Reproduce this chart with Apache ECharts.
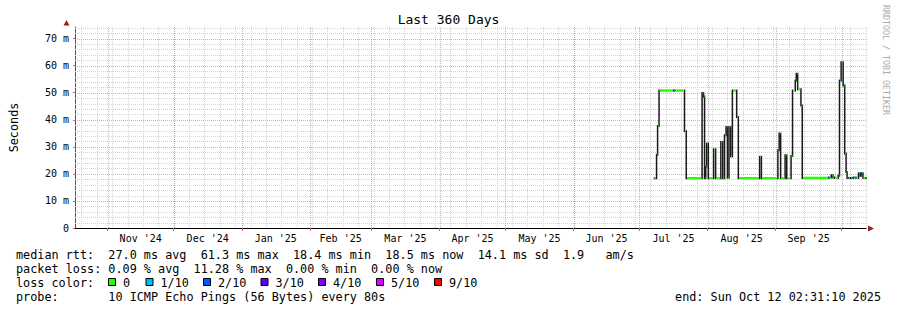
<!DOCTYPE html>
<html><head><meta charset="utf-8">
<script src="https://cdn.jsdelivr.net/npm/echarts@6/dist/echarts.min.js"></script>
<style>html,body{margin:0;padding:0;background:#fff}#c{width:897px;height:310px}</style>
</head><body><div id="c"></div>
<script>
// ---------- data ----------
const startTime = '2024-10-17 02:31:10';
const endTime = '2025-10-12 02:31:10';
const monthStarts = ['2024-11-01 00:00','2024-12-01 00:00','2025-01-01 00:00','2025-02-01 00:00','2025-03-01 00:00','2025-04-01 00:00','2025-05-01 00:00','2025-06-01 00:00','2025-07-01 00:00','2025-08-01 00:00','2025-09-01 00:00','2025-10-01 00:00'];
const monthLabels = ["Nov '24","Dec '24","Jan '25","Feb '25","Mar '25","Apr '25","May '25","Jun '25","Jul '25","Aug '25","Sep '25"];
const yTickLabels = ['0','10 m','20 m','30 m','40 m','50 m','60 m','70 m'];

const times = [
 '2025-07-07 10:00','2025-07-07 21:00','2025-07-08 19:00','2025-07-09 06:00','2025-07-09 22:00',
 '2025-07-16 10:00','2025-07-17 03:00','2025-07-21 12:00','2025-07-22 07:00','2025-07-29 12:00',
 '2025-07-30 04:00','2025-07-30 15:00','2025-07-31 04:00','2025-07-31 14:00','2025-08-01 08:00',
 '2025-08-03 18:00','2025-08-04 16:00','2025-08-07 01:00','2025-08-07 22:00','2025-08-08 17:00',
 '2025-08-09 10:00','2025-08-10 01:00','2025-08-10 18:00','2025-08-11 13:00','2025-08-12 07:00',
 '2025-08-14 06:00','2025-08-15 00:00','2025-08-24 17:00','2025-08-25 12:00','2025-09-02 00:00',
 '2025-09-02 14:00','2025-09-03 06:00','2025-09-05 07:00','2025-09-06 01:00','2025-09-08 00:00',
 '2025-09-08 16:00','2025-09-09 22:00','2025-09-10 09:00','2025-09-11 00:00','2025-09-12 12:00',
 '2025-09-13 02:00','2025-09-25 05:00','2025-09-26 07:00','2025-09-27 01:00','2025-09-27 19:00',
 '2025-09-29 11:00','2025-09-30 01:00','2025-09-30 19:00','2025-10-01 17:00','2025-10-02 10:00',
 '2025-10-03 01:00','2025-10-03 12:00','2025-10-04 05:00','2025-10-05 00:00','2025-10-05 18:00',
 '2025-10-06 11:00','2025-10-07 13:00','2025-10-08 17:00','2025-10-09 12:00','2025-10-10 02:00',
 '2025-10-10 17:00','2025-10-12 02:00'
];
const medianMs = [
 18.4,18.4,27.0,37.7,50.8,
 50.8,50.8,35.8,18.4,49.9,
 48.6,18.4,22.6,31.2,18.4,
 29.1,18.4,31.8,18.4,34.3,
 37.3,18.6,37.3,26.5,50.8,
 41.0,18.4,26.3,18.4,28.7,
 34.9,18.4,26.9,18.4,26.6,
 50.8,54.5,57.0,51.3,45.3,
 18.5,18.7,19.5,18.7,18.5,
 19.3,54.5,61.3,52.7,27.5,
 20.7,18.5,18.5,18.5,18.5,
 18.7,18.5,20.2,19.3,20.2,
 18.5,18.5
];
const lossTenths = [
 1,0,1,0,0,
 1,0,0,0,0,
 0,0,0,0,0,
 0,0,0,0,0,
 0,0,0,0,0,
 0,0,0,0,0,
 0,0,0,0,0,
 0,0,0,0,0,
 0,1,0,1,0,
 1,1,0,0,0,
 0,1,0,1,0,
 1,0,1,0,1,
 0,0
];
const lossLegendLabels = ['0','1/10','2/10','3/10','4/10','5/10','9/10'];
const lossLegendColors = ['#26ff00','#00b8ff','#0059ff','#5e00ff','#7e00ff','#dd00ff','#ff0000'];
const lossColorByTenths = {0:'#26ff00',1:'#00b8ff',2:'#0059ff',3:'#5e00ff',4:'#7e00ff',5:'#dd00ff',9:'#ff0000'};

const statLines = [
 'median rtt:  27.0 ms avg  61.3 ms max  18.4 ms min  18.5 ms now  14.1 ms sd  1.9   am/s',
 'packet loss: 0.09 % avg  11.28 % max  0.00 % min  0.00 % now'
];
const probeText = 'probe:       10 ICMP Echo Pings (56 Bytes) every 80s';
const endText = 'end: Sun Oct 12 02:31:10 2025';

// ---------- helpers ----------
function T(s){
  const m = s.match(/(\d+)-(\d+)-(\d+)(?: (\d+):(\d+)(?::(\d+))?)?/);
  return new Date(+m[1], m[2]-1, +m[3], +(m[4]||0), +(m[5]||0), +(m[6]||0)).getTime();
}
const mono = 'DejaVu Sans Mono';
const tStart = T(startTime), tEnd = T(endTime);
const monthTs = monthStarts.map(T);
const labelPos = monthLabels.map((_, i) => (monthTs[i] + monthTs[i+1]) / 2);
const yMax = 74.3;

// grid lines: [orientation 0=horizontal 1=vertical, value, major 0/1]
const weekTs = [];
for (let k = 0; ; k++) {
  const t = new Date(2024, 9, 20 + 7*k).getTime();
  if (t > tEnd) break;
  weekTs.push(t);
}
const gridData = [];
for (let v = 2; v < yMax; v += 2) if (v % 10 !== 0) gridData.push([0, v, 0]);
weekTs.forEach(t => gridData.push([1, t, 0]));
for (let v = 10; v <= 70; v += 10) gridData.push([0, v, 1]);
monthTs.forEach(t => gridData.push([1, t, 1]));

const segData = times.slice(0, -1).map((t, i) => [T(t), T(times[i+1]), medianMs[i], lossTenths[i]]);
const riseData = times.slice(1).map((t, i) => [T(t), medianMs[i], medianMs[i+1]]);

// ---------- legend graphics ----------
const legendFont = 11.8;
const graphics = [];
const rows = [255, 268.5, 282.5, 296.5];
statLines.forEach((s, i) => graphics.push({type:'text', x:16, y:rows[i], silent:true,
  style:{text:s, fontFamily:mono, fontSize:legendFont, fill:'#000', align:'left', verticalAlign:'middle'}}));
graphics.push({type:'text', x:16, y:rows[2], silent:true,
  style:{text:'loss color:', fontFamily:mono, fontSize:legendFont, fill:'#000', align:'left', verticalAlign:'middle'}});
const boxX = [108, 145.5, 203, 260.5, 318, 376, 434];
lossLegendLabels.forEach((lab, i) => {
  graphics.push({type:'rect', silent:true, shape:{x:boxX[i]+0.5, y:278.5, width:7, height:7},
    style:{fill:lossLegendColors[i], stroke:'#000', lineWidth:1}});
  graphics.push({type:'text', x:boxX[i]+15, y:rows[2], silent:true,
    style:{text:lab, fontFamily:mono, fontSize:legendFont, fill:'#000', align:'left', verticalAlign:'middle'}});
});
graphics.push({type:'text', x:16, y:rows[3], silent:true,
  style:{text:probeText, fontFamily:mono, fontSize:legendFont, fill:'#000', align:'left', verticalAlign:'middle'}});
graphics.push({type:'text', x:881, y:rows[3], silent:true,
  style:{text:endText, fontFamily:mono, fontSize:legendFont, fill:'#000', align:'right', verticalAlign:'middle'}});
graphics.push({type:'text', x:886, y:5, rotation:-Math.PI/2, silent:true,
  style:{text:'RRDTOOL / TOBI OETIKER', fontFamily:mono, fontSize:8.3, fill:'#aaaaaa', align:'left', verticalAlign:'middle'}});
graphics.push({type:'polygon', silent:true, shape:{points:[[63.5,25.5],[69.5,25.5],[66.5,20]]}, style:{fill:'#8f2222'}});
graphics.push({type:'polygon', silent:true, shape:{points:[[868,225.5],[868,231.5],[874,228.5]]}, style:{fill:'#8f2222'}});

// ---------- chart ----------
const chart = echarts.init(document.getElementById('c'), null, {renderer:'svg'});
chart.setOption({
  animation:false,
  backgroundColor:'#fff',
  title:{text:'Last 360 Days', left:'center', top:13, padding:0,
    textStyle:{fontFamily:mono, fontSize:13, fontWeight:'normal', color:'#000'}},
  grid:{left:66, right:31, top:27, bottom:82, containLabel:false},
  xAxis:{type:'value', min:tStart, max:tEnd, scale:true,
    axisLine:{show:true, onZero:false, lineStyle:{color:'#000', width:1}},
    axisTick:{show:true, customValues:monthTs, length:3, lineStyle:{color:'#e06060'}},
    axisLabel:{customValues:labelPos, fontFamily:mono, fontSize:10, color:'#000', margin:5,
      formatter:(v) => {
        let best = -1, bd = Infinity;
        labelPos.forEach((p, i) => { const d = Math.abs(p - v); if (d < bd) { bd = d; best = i; } });
        return bd < 86400000 ? monthLabels[best] : '';
      }},
    splitLine:{show:false}
  },
  yAxis:{type:'value', min:0, max:yMax, interval:10,
    name:'Seconds', nameLocation:'middle', nameGap:55, nameRotate:90,
    nameTextStyle:{fontFamily:mono, fontSize:11.8, color:'#000'},
    axisLine:{show:true, lineStyle:{color:'#555', width:1}},
    axisTick:{show:true, length:2, lineStyle:{color:'#e06060'}},
    axisLabel:{fontFamily:mono, fontSize:10, color:'#000', margin:6, showMaxLabel:false,
      formatter:(v) => (Math.abs(v % 10) < 1e-6 ? (yTickLabels[Math.round(v/10)] || '') : '')},
    splitLine:{show:false}
  },
  graphic:graphics,
  series:[
    {name:'grid', type:'custom', data:gridData, z:1, silent:true, encode:{x:-1, y:-1},
      renderItem:(params, api) => {
        const cs = params.coordSys;
        const d = gridData[params.dataIndex];
        const o = d[0], v = d[1], major = d[2];
        const stroke = major ? '#ff4a4a' : '#d4d4d4';
        const dash = major ? [1,1] : [1,1];
        if (o === 0) {
          const y = Math.round(api.coord([tStart, v])[1]) + 0.5;
          return {type:'line', z2: major ? 2 : 1, shape:{x1:cs.x, y1:y, x2:cs.x + cs.width, y2:y},
            style:{stroke:stroke, fill:null, lineWidth:1, lineDash:dash, opacity: major ? 0.55 : 1}};
        }
        const x = Math.round(api.coord([v, 0])[0]) + 0.5;
        return {type:'line', z2: major ? 2 : 1, shape:{x1:x, y1:cs.y, x2:x, y2:cs.y + cs.height},
          style:{stroke:stroke, fill:null, lineWidth:1, lineDash:dash, opacity: major ? 0.55 : 1}};
      }},
    {name:'smoke', type:'custom', data:riseData, z:2, silent:true, encode:{x:0, y:[1,2]},
      renderItem:(params, api) => {
        const a = api.coord([api.value(0), api.value(1)]);
        const b = api.coord([api.value(0), api.value(2)]);
        const top = Math.min(a[1], b[1]) - 1, bot = Math.max(a[1], b[1]) + 1;
        return {type:'rect', shape:{x:a[0] - 0.75, y:top, width:1.5, height:bot - top},
          style:{fill:'#1a1a1a'}};
      }},
    {name:'median', type:'custom', data:segData, z:3, silent:true,
      encode:{x:[0,1], y:2},
      renderItem:(params, api) => {
        const d = segData[params.dataIndex];
        const p0 = api.coord([d[0], d[2]]);
        const p1 = api.coord([d[1], d[2]]);
        return {type:'rect', shape:{x:p0[0] + 0.75, y:p0[1]-1.25, width:Math.max(p1[0]-p0[0] - 1.5, 0.5), height:2.5},
          style:{fill:lossColorByTenths[d[3]]}};
      }}
  ]
});
</script>
</body></html>
